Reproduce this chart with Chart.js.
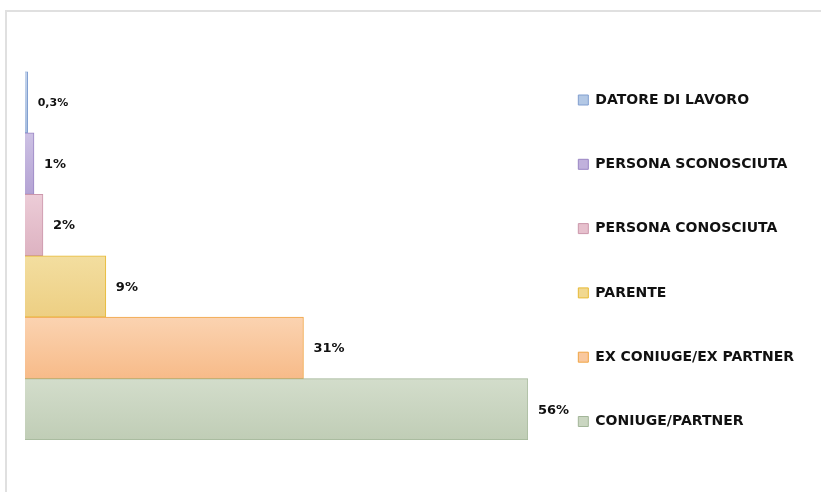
<!DOCTYPE html>
<html>
<head>
<meta charset="utf-8">
<script src="https://cdn.jsdelivr.net/npm/chart.js@4"></script>
<style>
  body { margin: 0; background: #fff; }
  #frame { position: absolute; left: 5px; top: 10px; right: -2px; bottom: -2px; border-top: 2px solid #e0e0e0; border-left: 2px solid #e0e0e0; }
  #wrap { position: absolute; left: 0; top: 0; width: 821px; height: 492px; }
</style>
</head>
<body>
<div id="frame"></div>
<div id="wrap"><canvas id="barChart"></canvas></div>
<script>
// categorie e valori (%)
const categorie = ['DATORE DI LAVORO', 'PERSONA SCONOSCIUTA', 'PERSONA CONOSCIUTA', 'PARENTE', 'EX CONIUGE/EX PARTNER', 'CONIUGE/PARTNER'];
const percentuali = [0.3, 1, 2, 9, 31, 56];

// colori: alto, basso, bordo
const coloriAlto = ['#c3d3eb', '#cdc1e4', '#ecccd7', '#f3dea0', '#fbd3b1', '#d3ddcb'];
const coloriBasso = ['#a7bddf', '#b4a3d4', '#ddb2c1', '#edcf83', '#f7bb89', '#c0cdb6'];
const bordi = ['#819fd0', '#9a86c4', '#cc97ab', '#e7ba36', '#f0a545', '#a3b699'];
const coloriLegenda = ['#b3c8e5', '#c0b1dc', '#e6c0cd', '#f1d890', '#f9c89e', '#cad6c1'];

Chart.defaults.font.family = "'DejaVu Sans', sans-serif";

function formatta(v) {
    return String(v).replace('.', ',') + '%';
}

// etichette a destra delle barre
const etichette = {
    id: 'etichette',
    afterDatasetsDraw(chart) {
        const c = chart.ctx;
        const meta = chart.getDatasetMeta(0);
        c.save();
        c.fillStyle = '#111';
        c.textBaseline = 'middle';
        c.textAlign = 'left';
        meta.data.forEach((bar, i) => {
            const size = percentuali[i] < 1 ? 11 : 13;
            c.font = 'bold ' + size + "px 'DejaVu Sans', sans-serif";
            c.fillText(formatta(percentuali[i]), bar.x + 10, bar.y + 1);
        });
        c.restore();
    }
};

const ctx = document.getElementById('barChart');

new Chart(ctx, {
    type: 'bar',
    data: {
        labels: categorie,
        datasets: [{
            data: percentuali,
            backgroundColor: (context) => {
                const chart = context.chart;
                const area = chart.chartArea;
                const i = context.dataIndex;
                if (!area || i === undefined) return coloriLegenda[i] || '#ccc';
                const y = chart.scales.y.getPixelForValue(i);
                const half = (area.bottom - area.top) / categorie.length / 2;
                const g = chart.ctx.createLinearGradient(0, y - half, 0, y + half);
                g.addColorStop(0, coloriAlto[i]);
                g.addColorStop(1, coloriBasso[i]);
                return g;
            },
            borderColor: bordi,
            borderWidth: 1,
            categoryPercentage: 1,
            barPercentage: 1
        }]
    },
    options: {
        indexAxis: 'y',
        responsive: true,
        maintainAspectRatio: false,
        animation: false,
        layout: {
            padding: { left: 25, right: 17, top: 0, bottom: 0 }
        },
        scales: {
            x: { display: false, min: 0, max: 56 },
            y: { display: false }
        },
        plugins: {
            title: {
                display: true,
                text: ' ',
                fullSize: false,
                font: { size: 10, lineHeight: 1 },
                padding: { top: 61.5, bottom: 0 }
            },
            subtitle: {
                display: true,
                text: ' ',
                position: 'bottom',
                fullSize: false,
                font: { size: 10, lineHeight: 1 },
                padding: { top: 42, bottom: 0 }
            },
            tooltip: { enabled: false },
            legend: {
                position: 'right',
                fullSize: true,
                title: {
                    display: true,
                    text: ' ',
                    font: { size: 10, lineHeight: 1 },
                    padding: { top: 19.5, bottom: 0 }
                },
                labels: {
                    boxWidth: 10,
                    boxHeight: 10,
                    padding: 50.3,
                    color: '#111',
                    font: { size: 14, weight: 'bold' },
                    generateLabels: () => categorie.map((nome, i) => ({
                        text: nome,
                        fillStyle: coloriLegenda[i],
                        strokeStyle: bordi[i],
                        fontColor: '#111',
                        lineWidth: 1,
                        hidden: false,
                        index: i
                    }))
                }
            }
        }
    },
    plugins: [etichette]
});
</script>
</body>
</html>
